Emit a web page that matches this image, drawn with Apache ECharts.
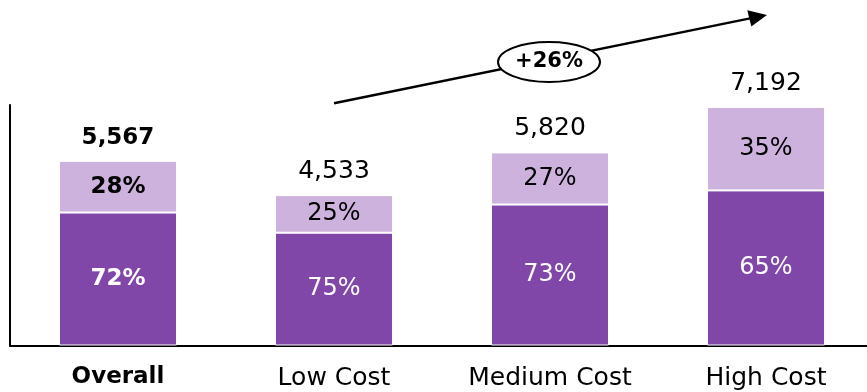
<!DOCTYPE html>
<html>
<head>
<meta charset="utf-8">
<script src="https://cdn.jsdelivr.net/npm/echarts@6/dist/echarts.min.js"></script>
<style>
html,body{margin:0;padding:0;background:#fff;}
#c{width:867px;height:392px;}
</style>
</head>
<body>
<div id="c"></div>
<script>
var categories = ['Overall', 'Low Cost', 'Medium Cost', 'High Cost'];
var totals = [5567, 4533, 5820, 7192];
var pctBase = [72, 75, 73, 65];
var pctTop = [28, 25, 27, 35];
var baseValues = [4008, 3400, 4249, 4675];
var topValues = [1559, 1133, 1571, 2517];
var growthLabel = '+26%';

var FONT = 'DejaVu Sans';
var DARK = '#8046A8';
var LIGHT = '#CDB2DE';

function fmt(n){ return n.toString().replace(/\B(?=(\d{3})+(?!\d))/g, ','); }

var chart = echarts.init(document.getElementById('c'));

var option = {
  animation: false,
  grid: { left: 10, top: 105, width: 864, height: 240.5, outerBoundsMode: 'none', containLabel: false },
  xAxis: {
    type: 'category',
    data: categories,
    axisLine: { lineStyle: { color: '#000', width: 2 } },
    axisTick: { show: false },
    axisLabel: {
      margin: 20,
      color: '#000',
      fontFamily: FONT,
      fontSize: 25,
      formatter: function (v, i) { return i === 0 ? '{b|' + v + '}' : v; },
      rich: { b: { fontWeight: 'bold', fontSize: 23, fontFamily: FONT, color: '#000' } }
    }
  },
  yAxis: {
    type: 'value',
    min: 0,
    max: 7250,
    axisLine: { show: true, lineStyle: { color: '#000', width: 2 } },
    axisTick: { show: false },
    axisLabel: { show: false },
    splitLine: { show: false }
  },
  series: [
    {
      type: 'bar',
      stack: 's',
      barWidth: 118,
      itemStyle: { color: DARK, borderColor: '#fff', borderWidth: 1 },
      data: baseValues.map(function (v, i) {
        return {
          value: v,
          label: i === 0 ? { fontWeight: 'bold', fontSize: 23 } : {}
        };
      }),
      label: {
        show: true,
        position: 'inside',
        color: '#fff',
        fontFamily: FONT,
        fontSize: 24,
        formatter: function (p) { return pctBase[p.dataIndex] + '%'; }
      }
    },
    {
      type: 'bar',
      stack: 's',
      itemStyle: { color: LIGHT, borderColor: '#fff', borderWidth: 1 },
      data: topValues.map(function (v, i) {
        return {
          value: v,
          label: i === 0 ? { fontWeight: 'bold', fontSize: 23 } : {}
        };
      }),
      label: {
        show: true,
        position: 'inside',
        color: '#000',
        fontFamily: FONT,
        fontSize: 24,
        formatter: function (p) { return pctTop[p.dataIndex] + '%'; }
      }
    },
    {
      type: 'bar',
      stack: 's',
      itemStyle: { color: 'transparent' },
      data: totals.map(function (v, i) {
        return {
          value: 0,
          label: i === 0 ? { fontWeight: 'bold', fontSize: 23 } : {}
        };
      }),
      label: {
        show: true,
        position: 'top',
        distance: 11,
        color: '#000',
        fontFamily: FONT,
        fontSize: 25,
        formatter: function (p) { return fmt(totals[p.dataIndex]); }
      }
    }
  ],
  graphic: [
    {
      type: 'line',
      shape: { x1: 334, y1: 103.3, x2: 750, y2: 18.4 },
      style: { stroke: '#000', lineWidth: 2.5 },
      z: 10
    },
    {
      type: 'polygon',
      shape: { points: [[767, 15], [751.3, 26.5], [747.3, 10.3]] },
      style: { fill: '#000' },
      z: 10
    },
    {
      type: 'ellipse',
      shape: { cx: 549, cy: 62, rx: 51, ry: 20 },
      style: { fill: '#fff', stroke: '#000', lineWidth: 2 },
      z: 11
    },
    {
      type: 'text',
      x: 549,
      y: 62,
      style: {
        text: growthLabel,
        fill: '#000',
        font: 'bold 21px "DejaVu Sans"',
        align: 'center',
        verticalAlign: 'middle'
      },
      z: 12
    }
  ]
};

chart.setOption(option);
</script>
</body>
</html>
